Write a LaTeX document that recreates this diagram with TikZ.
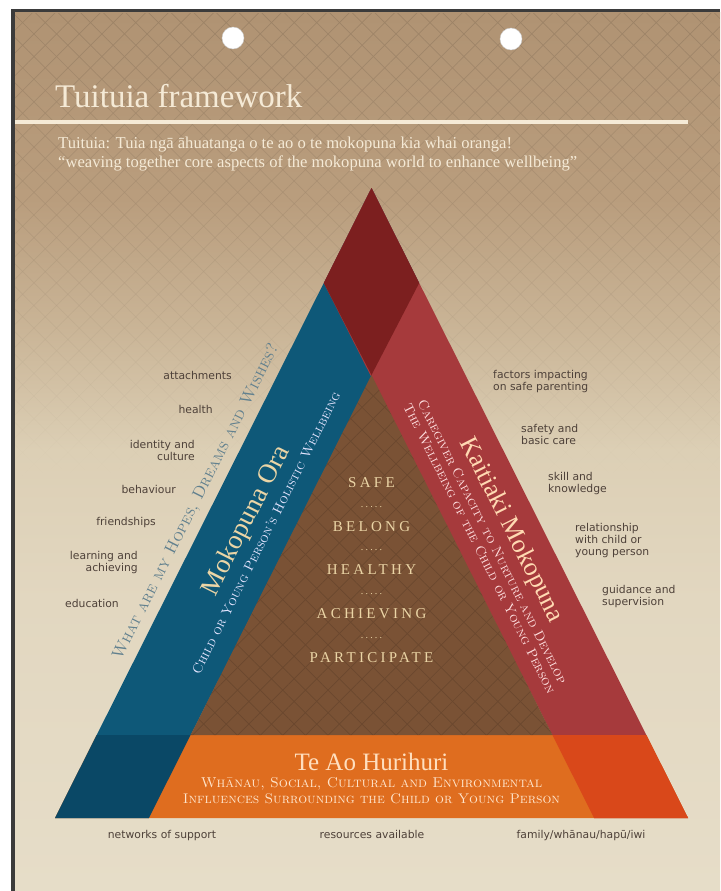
\documentclass[tikz,border=0pt]{standalone}
\usepackage{fontspec}
\usepackage{xcolor}
\usepackage{tikz}
\usetikzlibrary{patterns.meta,fadings,calc}
\newfontfamily\labelsans{DejaVu Sans}
\newfontfamily\headserif{Liberation Serif}
\newfontfamily\corefont{Liberation Serif}[LetterSpace=22]

% paper, frame and band colours
\definecolor{framegray}{HTML}{3B3B3B}
\definecolor{paperA}{HTML}{B09373}
\definecolor{paperB}{HTML}{B99D7D}
\definecolor{paperC}{HTML}{CAB597}
\definecolor{paperD}{HTML}{DCCFB5}
\definecolor{paperE}{HTML}{E2D7C0}
\definecolor{paperF}{HTML}{E6DDC8}
\definecolor{titlecream}{HTML}{F5EAD6}
\definecolor{oraBlue}{HTML}{0E5878}
\definecolor{oraBlueDk}{HTML}{0A4866}
\definecolor{kaiRed}{HTML}{A63A3C}
\definecolor{kaiRedDk}{HTML}{7C1F1F}
\definecolor{aoOrange}{HTML}{DF6D1F}
\definecolor{aoRed}{HTML}{D9481A}
\definecolor{coreBrown}{HTML}{7A5235}
\definecolor{corecream}{HTML}{EBD5A6}
\definecolor{labelgray}{HTML}{4E4139}
\definecolor{hopesblue}{HTML}{61808E}

\pgfdeclareverticalshading{paperfade}{100bp}{color(0bp)=(paperF); color(25bp)=(paperF);
  color(41.6bp)=(paperE); color(50.1bp)=(paperD); color(56.9bp)=(paperC);
  color(64.4bp)=(paperB); color(75bp)=(paperA); color(100bp)=(paperA)}
\tikzfading[name=weavefade, top color=transparent!0, middle color=transparent!20, bottom color=transparent!100]

\begin{document}
\begin{tikzpicture}[x=1pt, y=-1pt,
    lbl/.style={font=\labelsans\fontsize{10.8}{12}\selectfont, text=labelgray, inner sep=0pt},
    corewd/.style={font=\corefont\fontsize{15}{17}\selectfont, text=corecream, inner sep=0pt},
    coredots/.style={font=\corefont\fontsize{10}{10}\selectfont, text=corecream, inner sep=0pt},
    bandttl/.style={inner sep=0pt},
    bandsub/.style={font=\scshape\fontsize{13.5}{14.5}\selectfont, inner sep=0pt, align=center},
    weaveA/.style={pattern={Lines[angle=45,distance=16pt,line width=0.7pt]}, pattern color=#1},
    weaveB/.style={pattern={Lines[angle=-45,distance=16pt,line width=0.7pt]}, pattern color=#1}]
    \useasboundingbox (0,0) rectangle (720,891);

    % Page and woven paper
    \fill[white] (0,0) rectangle (720,891);
    \fill[framegray] (11,9) rectangle (720,891);
    \shade[shading=paperfade] (15,13) rectangle (720,891);
    \begin{scope}[opacity=0.11, transparency group]
        \fill[weaveA=black, path fading=weavefade] (15,13) rectangle (720,480);
        \fill[weaveB=black, path fading=weavefade] (15,13) rectangle (720,480);
    \end{scope}

    % Punched holes
    \fill[white] (233,38) circle[radius=11];
    \draw[black!20] (233,38) circle[radius=11];
    \fill[white] (511,39) circle[radius=11];
    \draw[black!20] (511,39) circle[radius=11];

    % Title
    \node[font=\headserif\fontsize{33}{38}\selectfont, text=titlecream, anchor=base west, inner sep=0pt] (title) at (55,107) {Tuituia framework};
    \draw[titlecream, line width=3.5pt] (15,122) -- (688,122);
    \node[font=\headserif\fontsize{16.6}{19}\selectfont, text=titlecream, anchor=base west, inner sep=0pt] (motto) at (58,148) {Tuituia: Tuia ngā āhuatanga o te ao o te mokopuna kia whai oranga!};
    \node[font=\headserif\fontsize{16.6}{19}\selectfont, text=titlecream, anchor=base west, inner sep=0pt] (mottoEn) at (58,167) {“weaving together core aspects of the mokopuna world to enhance wellbeing”};

    % Triangle corners
    \coordinate (apex) at (371.5,188);
    \coordinate (baseL) at (55,818);
    \coordinate (baseR) at (688,818);
    \coordinate (core) at (371.5,375);
    \coordinate (sideL) at (323.8,283);
    \coordinate (sideR) at (419.2,283);
    \coordinate (coreL) at (190.6,735);
    \coordinate (coreR) at (552.4,735);
    \coordinate (stepL) at (96.7,735);
    \coordinate (stepR) at (646.3,735);
    \coordinate (footL) at (148.9,818);
    \coordinate (footR) at (594.1,818);

    % Three woven bands
    \fill[oraBlue] (baseL) -- (apex) -- (sideR) -- (footL) -- cycle;
    \fill[kaiRed] (baseR) -- (apex) -- (sideL) -- (footR) -- cycle;
    \fill[kaiRedDk] (apex) -- (sideL) -- (core) -- (sideR) -- cycle;
    \fill[aoOrange] (baseL) -- (baseR) -- (stepR) -- (stepL) -- cycle;
    \fill[oraBlueDk] (baseL) -- (footL) -- (coreL) -- (stepL) -- cycle;
    \fill[aoRed] (footR) -- (baseR) -- (stepR) -- (coreR) -- cycle;

    % Centre
    \fill[coreBrown] (core) -- (coreL) -- (coreR) -- cycle;
    \begin{scope}[opacity=0.12, transparency group]
        \fill[weaveA=black] (core) -- (coreL) -- (coreR) -- cycle;
        \fill[weaveB=black] (core) -- (coreL) -- (coreR) -- cycle;
    \end{scope}

    \node[corewd] (safe) at (371.5,483) {SAFE};
    \node[coredots] (dotsA) at (371.5,507) {.....};
    \node[corewd] (belong) at (371.5,527) {BELONG};
    \node[coredots] (dotsB) at (371.5,550) {.....};
    \node[corewd] (healthy) at (371.5,570) {HEALTHY};
    \node[coredots] (dotsC) at (371.5,594) {.....};
    \node[corewd] (achieving) at (371.5,614) {ACHIEVING};
    \node[coredots] (dotsD) at (371.5,638) {.....};
    \node[corewd] (participate) at (371.5,658) {PARTICIPATE};

    % Mokopuna Ora band
    \node[bandttl, font=\headserif\fontsize{27}{30}\selectfont, text=corecream, rotate=63.3] (oraTitle) at (247,521) {Mokopuna Ora};
    \node[bandsub, text=blue!10!white, rotate=63.3] (oraSub) at (266,533) {Child or Young Person's Holistic Wellbeing};
    \node[font=\scshape\fontsize{16.5}{18}\selectfont, text=hopesblue, inner sep=0pt, rotate=63.3] (hopes) at (196,502) {What are my Hopes, Dreams and Wishes?};

    % Kaitiaki Mokopuna band
    \node[bandttl, font=\headserif\fontsize{26}{30}\selectfont, text=orange!30!white, rotate=-63.3] (kaiTitle) at (511,530) {Kaitiaki Mokopuna};
    \node[bandsub, text=red!12!white, rotate=-63.3] (kaiSub) at (486,545) {Caregiver Capacity to Nurture and Develop\\The Wellbeing of the Child or Young Person};

    % Te Ao Hurihuri band
    \node[font=\headserif\fontsize{25}{28}\selectfont, text=orange!25!white, anchor=base, inner sep=0pt] (aoTitle) at (371.5,770) {Te Ao Hurihuri};
    \node[font=\scshape\fontsize{14.3}{15}\selectfont, text=orange!20!white, anchor=base, inner sep=0pt] (aoSubA) at (371.5,787) {Whānau, Social, Cultural and Environmental};
    \node[font=\scshape\fontsize{14}{15}\selectfont, text=orange!20!white, anchor=base, inner sep=0pt] (aoSubB) at (371.5,803) {Influences Surrounding the Child or Young Person};

    % Left labels
    \node[lbl, anchor=east] (attach) at (232,375) {attachments};
    \node[lbl, anchor=east] (health) at (213,409) {health};
    \node[lbl, anchor=east, align=right] (identity) at (195,450) {identity and\\culture};
    \node[lbl, anchor=east] (behave) at (176,489) {behaviour};
    \node[lbl, anchor=east] (friends) at (156,523) {friendships};
    \node[lbl, anchor=east, align=right] (learning) at (138,563) {learning and\\achieving};
    \node[lbl, anchor=east] (educ) at (119,603) {education};

    % Right labels
    \node[lbl, anchor=west, align=left] (factors) at (493,382) {factors impacting\\on safe parenting};
    \node[lbl, anchor=west, align=left] (safety) at (521,434) {safety and\\basic care};
    \node[lbl, anchor=west, align=left] (skill) at (548,484) {skill and\\knowledge};
    \node[lbl, anchor=west, align=left] (relation) at (575,541) {relationship\\with child or\\young person};
    \node[lbl, anchor=west, align=left] (guidance) at (602,597) {guidance and\\supervision};

    % Bottom labels
    \node[lbl, anchor=base] (networks) at (162,838) {networks of support};
    \node[lbl, anchor=base] (resources) at (372,838) {resources available};
    \node[lbl, anchor=base] (family) at (581,838) {family/whānau/hapū/iwi};
\end{tikzpicture}
\end{document}
